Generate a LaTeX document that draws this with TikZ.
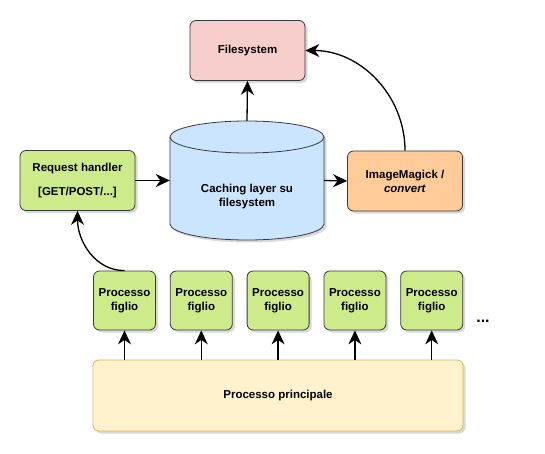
\documentclass[tikz,border=0pt]{standalone}
\usepackage{fontspec}
\setmainfont{Liberation Sans}
\usetikzlibrary{arrows.meta,shadows}
\definecolor{fsred}{HTML}{F8CECC}
\definecolor{figgreen}{HTML}{CDEB8B}
\definecolor{cacheblue}{HTML}{CCE5FF}
\definecolor{imorange}{HTML}{FFCC99}
\definecolor{ppyellow}{HTML}{FFF2CC}
\definecolor{ppborder}{HTML}{D6B656}
\definecolor{darkline}{HTML}{36393D}
\tikzset{
  box/.style={draw=darkline, line width=0.8pt, rounded corners=6pt, align=center, inner sep=0pt,
    font=\bfseries\fontsize{11.5}{14}\selectfont,
    drop shadow={opacity=0.3, shadow xshift=2.5pt, shadow yshift=-2.5pt}},
  arr/.style={line width=1.3pt, >={Stealth[length=14pt, width=13pt, inset=4.5pt]}, ->},
}
\begin{document}
\begin{tikzpicture}[x=1pt,y=1pt]
    \useasboundingbox (0,0) rectangle (545,-454);
    % top and middle row
    \node [box, fill=fsred, minimum width=115pt, minimum height=60pt] (fs) at (247.5,-50.5) {Filesystem};
    \node [box, fill=figgreen, minimum width=115pt, minimum height=60pt] (rh) at (77.5,-180.5) {Request handler\\[10pt][GET/POST/...]};
    \node [box, fill=imorange, minimum width=115pt, minimum height=60pt] (im) at (405,-181) {ImageMagick /\\\textit{convert}};
    % cylinder
    \draw [darkline, line width=0.8pt, fill=cacheblue, drop shadow={opacity=0.3, shadow xshift=2.5pt, shadow yshift=-2.5pt}]
      (170,-137) -- (170,-224) arc (180:360:77 and 16) -- (324,-137) arc (0:180:77 and 16) -- cycle;
    \draw [darkline, line width=0.8pt] (170,-137) arc (180:360:77 and 16);
    \node [minimum width=154pt, minimum height=119pt, inner sep=0pt] (cache) at (247,-180.5) {};
    \node [align=center, font=\bfseries\fontsize{11.5}{14}\selectfont] (cachetext) at (247,-197) {Caching layer su\\filesystem};
    % bottom row
    \node [box, fill=ppyellow, draw=ppborder, minimum width=370pt, minimum height=71pt] (pp) at (278,-395.5) {Processo principale};
    \foreach \i in {1,...,5} {
      \node [box, fill=figgreen, minimum width=62pt, minimum height=59pt] (f\i) at ({124.5+76.8*(\i-1)},-300.5) {Processo\\figlio};
      \draw [arr] (pp.north -| f\i) -- (f\i.south);
    }
    \node [font=\bfseries\fontsize{16}{16}\selectfont] (dots) at (483,-321) {...};
    % connectors
    \draw [arr] (rh.east) -- (cache.west);
    \draw [arr] (cache.east) -- (im.west);
    \draw [arr] (cache.north) -- (fs.south);
    \draw [arr] (im.north) to [out=90, in=0] (fs.east);
    \draw [arr] (f1.north) to [out=180, in=-90] (rh.south);
\end{tikzpicture}
\end{document}
